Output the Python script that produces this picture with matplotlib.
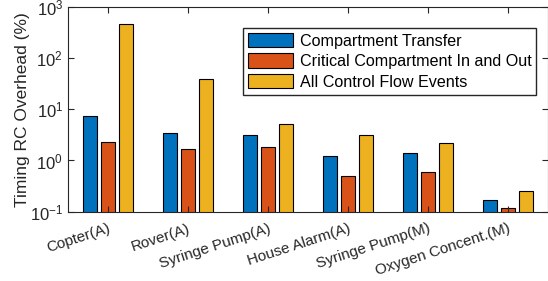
import matplotlib
matplotlib.use("Agg")
import matplotlib.pyplot as plt
import numpy as np

plt.rcParams['font.family'] = ['Liberation Sans', 'DejaVu Sans']

categories = ["Copter(A)", "Rover(A)", "Syringe Pump(A)", "House Alarm(A)",
              "Syringe Pump(M)", "Oxygen Concent.(M)"]
series_names = ["Compartment Transfer", "Critical Compartment In and Out",
                "All Control Flow Events"]
transfer = [7.3, 3.5, 3.1, 1.2, 1.39, 0.167]
critical = [2.25, 1.67, 1.8, 0.49, 0.59, 0.12]
all_cf = [470, 40, 5.1, 3.1, 2.15, 0.25]
colors = ["#0072BD", "#D95319", "#EDB120"]

fig = plt.figure(figsize=(5.48, 2.81), dpi=100)
ax = fig.add_axes([0.124, 0.247, 0.876, 0.728])
ax.set_yscale("log")

x = np.arange(1, len(categories) + 1)
step = 0.225
width = 0.18
for i, (vals, name) in enumerate(zip([transfer, critical, all_cf], series_names)):
    ax.bar(x + (i - 1) * step, vals, width, color=colors[i],
           edgecolor="black", linewidth=0.8, label=name)

ax.set_ylim(0.1, 1000)
ax.set_xlim(0.5, len(categories) + 0.5)
ax.set_xticks(x)
ax.set_xticklabels(categories, rotation=18, ha="right", va="top",
                   rotation_mode="anchor", fontsize=11, color="#262626")
ax.set_yticks([0.1, 1, 10, 100, 1000])
ax.minorticks_off()
ax.tick_params(axis="y", labelsize=12, labelcolor="#262626")
ax.tick_params(axis="x", pad=7)
ax.tick_params(direction="in", top=True, right=True, length=4, color="#262626")
ax.set_ylabel("Timing RC Overhead (%)", fontsize=12.5, color="#262626", labelpad=0)
for s in ax.spines.values():
    s.set_color("#262626")
    s.set_linewidth(0.8)

ax.legend(loc="upper left", bbox_to_anchor=(0.365, 0.897), fontsize=11.6,
          frameon=True, fancybox=False, edgecolor="#262626", framealpha=1,
          handlelength=2.8, handleheight=1.0, handletextpad=0.4,
          labelspacing=0.3, borderpad=0.3, borderaxespad=0)

fig.savefig("out.png", dpi=100)
